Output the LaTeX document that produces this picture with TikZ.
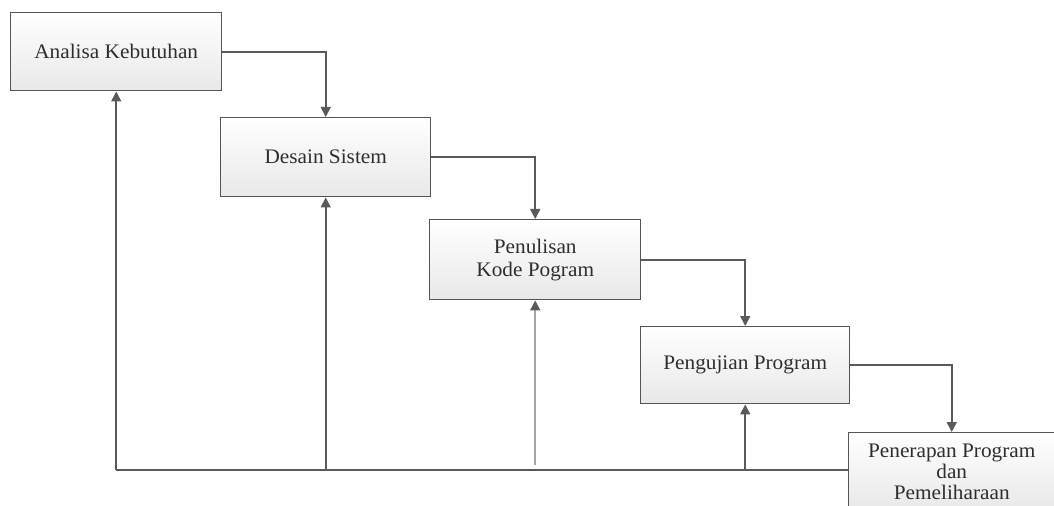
\documentclass[tikz,border=0pt]{standalone}
\usepackage{fontspec}
\setmainfont{Liberation Serif}[FakeStretch=1.03]
\usetikzlibrary{arrows.meta}
\definecolor{lc}{HTML}{5A5A5A}
\definecolor{bc}{HTML}{555555}
\definecolor{tc}{HTML}{2E2E2E}
\tikzset{
  stage/.style={draw=bc, line width=1.1pt, anchor=north west, align=center,
    top color=white, bottom color=black!9, text=tc,
    font=\fontsize{15.5}{17.5}\selectfont, inner sep=0pt},
  conn/.style={draw=lc, line width=1.2pt},
  arr/.style={conn, -{Triangle[width=7.5pt,length=7.5pt]}}
}
\begin{document}
\begin{tikzpicture}[x=0.75pt,y=-0.75pt]
\useasboundingbox (0,0) rectangle (1054,506);
\clip (0,0) rectangle (1054,506);
\node[stage, minimum width=158.25pt, minimum height=58.5pt] (b1) at (10,12) {Analisa Kebutuhan};
\node[stage, minimum width=157.5pt, minimum height=59.25pt] (b2) at (220,117) {Desain Sistem};
\node[stage, minimum width=158.25pt, minimum height=60pt] (b3) at (429,219) {Penulisan\\Kode Pogram};
\node[stage, minimum width=156.75pt, minimum height=57.75pt] (b4) at (640,326) {Pengujian Program};
\node[stage, minimum width=154.5pt, minimum height=58.5pt, font=\fontsize{15.5}{16}\selectfont] (b5) at (848,432) {Penerapan Program\\dan\\Pemeliharaan};
% forward flow
\draw[arr] (b1.east) -| (b2.north);
\draw[arr] (b2.east) -| (b3.north);
\draw[arr] (b3.east) -| (b4.north);
\draw[arr] (b4.east) -| (b5.north);
% feedback
\coordinate (f1) at (b1.south |- 0,470);
\coordinate (f2) at (b2.south |- 0,470);
\coordinate (f4) at (b4.south |- 0,470);
\coordinate (f3) at (b3.south |- 0,465);
\coordinate (f5) at (b5.west |- 0,470);
\draw[conn] (f5) -- (f1);
\draw[arr] (f1) -- (b1.south);
\draw[arr] (f2) -- (b2.south);
\draw[arr] (f4) -- (b4.south);
\draw[conn, draw=black!35, line width=1.5pt, -{Triangle[width=7.5pt,length=7.5pt,color=lc]}] (f3) -- (b3.south);
\end{tikzpicture}
\end{document}
